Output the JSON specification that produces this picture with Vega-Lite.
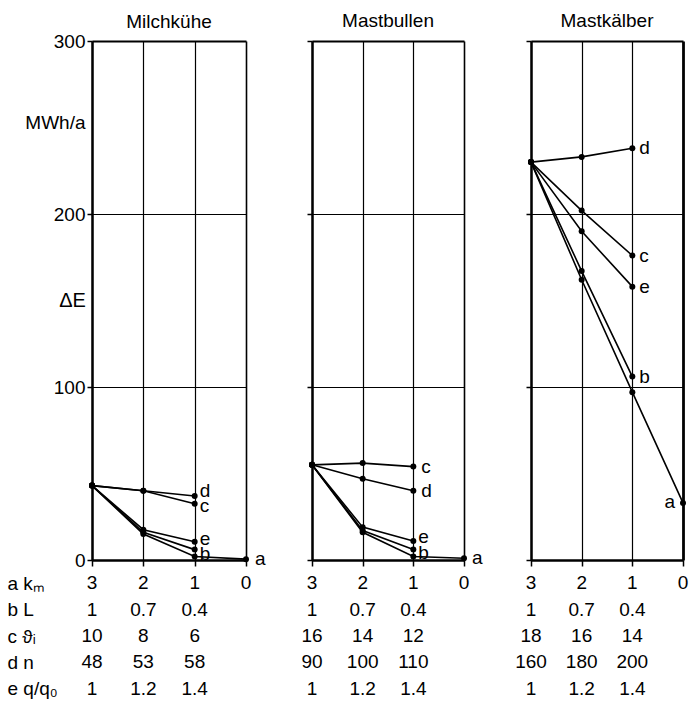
{
  "$schema": "https://vega.github.io/schema/vega-lite/v6.json",
  "autosize": {"type": "pad"},
  "padding": {"left": 7, "top": 12, "right": 0, "bottom": 0},
  "background": "white",
  "spacing": 35,
  "config": {
    "font": "Liberation Sans",
    "view": {"stroke": null},
    "axis": {"domainColor": "black", "tickColor": "black", "gridColor": "black", "labelColor": "black", "titleColor": "black", "labelFont": "Liberation Sans", "titleFont": "Liberation Sans", "labelFontSize": 19, "titleFontSize": 20, "titleFontWeight": "normal"},
    "title": {"font": "Liberation Sans", "fontSize": 19, "fontWeight": "normal", "color": "black", "offset": 9},
    "text": {"font": "Liberation Sans", "color": "black"}
  },
  "datasets": {
    "curves": [
      {"panel": "Milchkühe", "series": "a", "km": 3, "E": 43},
      {"panel": "Milchkühe", "series": "a", "km": 2, "E": 15},
      {"panel": "Milchkühe", "series": "a", "km": 1, "E": 2},
      {"panel": "Milchkühe", "series": "a", "km": 0, "E": 0.5},
      {"panel": "Milchkühe", "series": "b", "km": 3, "E": 43},
      {"panel": "Milchkühe", "series": "b", "km": 2, "E": 16},
      {"panel": "Milchkühe", "series": "b", "km": 1, "E": 6},
      {"panel": "Milchkühe", "series": "c", "km": 3, "E": 43},
      {"panel": "Milchkühe", "series": "c", "km": 2, "E": 40},
      {"panel": "Milchkühe", "series": "c", "km": 1, "E": 32.5},
      {"panel": "Milchkühe", "series": "d", "km": 3, "E": 43},
      {"panel": "Milchkühe", "series": "d", "km": 2, "E": 40},
      {"panel": "Milchkühe", "series": "d", "km": 1, "E": 37},
      {"panel": "Milchkühe", "series": "e", "km": 3, "E": 43},
      {"panel": "Milchkühe", "series": "e", "km": 2, "E": 17.5},
      {"panel": "Milchkühe", "series": "e", "km": 1, "E": 10.5},
      {"panel": "Mastbullen", "series": "a", "km": 3, "E": 55},
      {"panel": "Mastbullen", "series": "a", "km": 2, "E": 16},
      {"panel": "Mastbullen", "series": "a", "km": 1, "E": 2},
      {"panel": "Mastbullen", "series": "a", "km": 0, "E": 1},
      {"panel": "Mastbullen", "series": "b", "km": 3, "E": 55},
      {"panel": "Mastbullen", "series": "b", "km": 2, "E": 17},
      {"panel": "Mastbullen", "series": "b", "km": 1, "E": 6},
      {"panel": "Mastbullen", "series": "c", "km": 3, "E": 55},
      {"panel": "Mastbullen", "series": "c", "km": 2, "E": 56},
      {"panel": "Mastbullen", "series": "c", "km": 1, "E": 54},
      {"panel": "Mastbullen", "series": "d", "km": 3, "E": 55},
      {"panel": "Mastbullen", "series": "d", "km": 2, "E": 47},
      {"panel": "Mastbullen", "series": "d", "km": 1, "E": 40},
      {"panel": "Mastbullen", "series": "e", "km": 3, "E": 55},
      {"panel": "Mastbullen", "series": "e", "km": 2, "E": 19},
      {"panel": "Mastbullen", "series": "e", "km": 1, "E": 11},
      {"panel": "Mastkälber", "series": "a", "km": 3, "E": 230},
      {"panel": "Mastkälber", "series": "a", "km": 2, "E": 162},
      {"panel": "Mastkälber", "series": "a", "km": 1, "E": 97},
      {"panel": "Mastkälber", "series": "a", "km": 0, "E": 33},
      {"panel": "Mastkälber", "series": "b", "km": 3, "E": 230},
      {"panel": "Mastkälber", "series": "b", "km": 2, "E": 167},
      {"panel": "Mastkälber", "series": "b", "km": 1, "E": 106},
      {"panel": "Mastkälber", "series": "c", "km": 3, "E": 230},
      {"panel": "Mastkälber", "series": "c", "km": 2, "E": 202},
      {"panel": "Mastkälber", "series": "c", "km": 1, "E": 176},
      {"panel": "Mastkälber", "series": "d", "km": 3, "E": 230},
      {"panel": "Mastkälber", "series": "d", "km": 2, "E": 233},
      {"panel": "Mastkälber", "series": "d", "km": 1, "E": 238},
      {"panel": "Mastkälber", "series": "e", "km": 3, "E": 230},
      {"panel": "Mastkälber", "series": "e", "km": 2, "E": 190},
      {"panel": "Mastkälber", "series": "e", "km": 1, "E": 158}
    ],
    "table": [
      {"panel": "Milchkühe", "row": "a kₘ", "km": 3, "value": "3"},
      {"panel": "Milchkühe", "row": "a kₘ", "km": 2, "value": "2"},
      {"panel": "Milchkühe", "row": "a kₘ", "km": 1, "value": "1"},
      {"panel": "Milchkühe", "row": "a kₘ", "km": 0, "value": "0"},
      {"panel": "Milchkühe", "row": "b L", "km": 3, "value": "1"},
      {"panel": "Milchkühe", "row": "b L", "km": 2, "value": "0.7"},
      {"panel": "Milchkühe", "row": "b L", "km": 1, "value": "0.4"},
      {"panel": "Milchkühe", "row": "c ϑᵢ", "km": 3, "value": "10"},
      {"panel": "Milchkühe", "row": "c ϑᵢ", "km": 2, "value": "8"},
      {"panel": "Milchkühe", "row": "c ϑᵢ", "km": 1, "value": "6"},
      {"panel": "Milchkühe", "row": "d n", "km": 3, "value": "48"},
      {"panel": "Milchkühe", "row": "d n", "km": 2, "value": "53"},
      {"panel": "Milchkühe", "row": "d n", "km": 1, "value": "58"},
      {"panel": "Milchkühe", "row": "e q/q₀", "km": 3, "value": "1"},
      {"panel": "Milchkühe", "row": "e q/q₀", "km": 2, "value": "1.2"},
      {"panel": "Milchkühe", "row": "e q/q₀", "km": 1, "value": "1.4"},
      {"panel": "Mastbullen", "row": "a kₘ", "km": 3, "value": "3"},
      {"panel": "Mastbullen", "row": "a kₘ", "km": 2, "value": "2"},
      {"panel": "Mastbullen", "row": "a kₘ", "km": 1, "value": "1"},
      {"panel": "Mastbullen", "row": "a kₘ", "km": 0, "value": "0"},
      {"panel": "Mastbullen", "row": "b L", "km": 3, "value": "1"},
      {"panel": "Mastbullen", "row": "b L", "km": 2, "value": "0.7"},
      {"panel": "Mastbullen", "row": "b L", "km": 1, "value": "0.4"},
      {"panel": "Mastbullen", "row": "c ϑᵢ", "km": 3, "value": "16"},
      {"panel": "Mastbullen", "row": "c ϑᵢ", "km": 2, "value": "14"},
      {"panel": "Mastbullen", "row": "c ϑᵢ", "km": 1, "value": "12"},
      {"panel": "Mastbullen", "row": "d n", "km": 3, "value": "90"},
      {"panel": "Mastbullen", "row": "d n", "km": 2, "value": "100"},
      {"panel": "Mastbullen", "row": "d n", "km": 1, "value": "110"},
      {"panel": "Mastbullen", "row": "e q/q₀", "km": 3, "value": "1"},
      {"panel": "Mastbullen", "row": "e q/q₀", "km": 2, "value": "1.2"},
      {"panel": "Mastbullen", "row": "e q/q₀", "km": 1, "value": "1.4"},
      {"panel": "Mastkälber", "row": "a kₘ", "km": 3, "value": "3"},
      {"panel": "Mastkälber", "row": "a kₘ", "km": 2, "value": "2"},
      {"panel": "Mastkälber", "row": "a kₘ", "km": 1, "value": "1"},
      {"panel": "Mastkälber", "row": "a kₘ", "km": 0, "value": "0"},
      {"panel": "Mastkälber", "row": "b L", "km": 3, "value": "1"},
      {"panel": "Mastkälber", "row": "b L", "km": 2, "value": "0.7"},
      {"panel": "Mastkälber", "row": "b L", "km": 1, "value": "0.4"},
      {"panel": "Mastkälber", "row": "c ϑᵢ", "km": 3, "value": "18"},
      {"panel": "Mastkälber", "row": "c ϑᵢ", "km": 2, "value": "16"},
      {"panel": "Mastkälber", "row": "c ϑᵢ", "km": 1, "value": "14"},
      {"panel": "Mastkälber", "row": "d n", "km": 3, "value": "160"},
      {"panel": "Mastkälber", "row": "d n", "km": 2, "value": "180"},
      {"panel": "Mastkälber", "row": "d n", "km": 1, "value": "200"},
      {"panel": "Mastkälber", "row": "e q/q₀", "km": 3, "value": "1"},
      {"panel": "Mastkälber", "row": "e q/q₀", "km": 2, "value": "1.2"},
      {"panel": "Mastkälber", "row": "e q/q₀", "km": 1, "value": "1.4"}
    ]
  },
  "resolve": {"scale": {"x": "independent", "y": "independent"}},
  "hconcat": [
    {
      "bounds": "flush",
      "spacing": 10,
      "resolve": {"scale": {"x": "independent", "y": "independent"}},
      "vconcat": [
        {
          "width": 154, "height": 519,
          "title": {"text": "Milchkühe", "offset": 0},
          "data": {"name": "curves"},
          "transform": [{"filter": "datum.panel == 'Milchkühe'"}],
          "encoding": {
            "x": {"field": "km", "type": "quantitative", "scale": {"domain": [0, 3], "reverse": true, "nice": false, "zero": false},
                  "axis": {"values": [3, 2, 1, 0], "labels": false, "tickSize": 6, "tickWidth": 1.5, "grid": true, "gridWidth": {"condition": {"test": "datum.value == 0", "value": 1.6}, "value": 1.2}, "domainWidth": 2.5, "title": null}},
            "y": {"field": "E", "type": "quantitative", "scale": {"domain": [0, 300], "nice": false},
                  "axis": {"values": [0, 100, 200, 253, 300], "labelExpr": "datum.value == 253 ? 'MWh/a' : datum.label",
                           "tickOpacity": {"condition": {"test": "datum.value == 253", "value": 0}, "value": 1},
                           "gridOpacity": {"condition": {"test": "datum.value == 253", "value": 0}, "value": 1},
                           "gridWidth": {"condition": {"test": "datum.value == 300", "value": 2}, "value": 1.2},
                           "grid": true, "domainWidth": 2.5, "tickSize": 5, "tickWidth": 1.5, "labelPadding": 2,
                           "title": "ΔE", "titleAngle": 0, "titleX": -20, "titleY": 259, "titleAlign": "center", "titleBaseline": "middle"}}
          },
          "layer": [
            {"mark": {"type": "line", "color": "black", "strokeWidth": 1.6}, "encoding": {"detail": {"field": "series"}}},
            {"mark": {"type": "point", "filled": true, "color": "black", "size": 36, "opacity": 1}},
            {"transform": [{"joinaggregate": [{"op": "min", "field": "km", "as": "kmEnd"}], "groupby": ["series"]}, {"filter": "datum.km == datum.kmEnd && datum.series == 'a'"}],
             "mark": {"type": "text", "align": "left", "dx": 9, "fontSize": 19, "baseline": "middle"}, "encoding": {"text": {"field": "series"}}},
            {"transform": [{"filter": "datum.km == 1 && datum.series == 'd'"}],
             "mark": {"type": "text", "align": "left", "dx": 5, "dy": -5, "fontSize": 19, "baseline": "middle"}, "encoding": {"text": {"field": "series"}}},
            {"transform": [{"filter": "datum.km == 1 && datum.series == 'c'"}],
             "mark": {"type": "text", "align": "left", "dx": 5, "dy": 2, "fontSize": 19, "baseline": "middle"}, "encoding": {"text": {"field": "series"}}},
            {"transform": [{"filter": "datum.km == 1 && datum.series == 'e'"}],
             "mark": {"type": "text", "align": "left", "dx": 5, "dy": -3, "fontSize": 19, "baseline": "middle"}, "encoding": {"text": {"field": "series"}}},
            {"transform": [{"filter": "datum.km == 1 && datum.series == 'b'"}],
             "mark": {"type": "text", "align": "left", "dx": 5, "dy": 4, "fontSize": 19, "baseline": "middle"}, "encoding": {"text": {"field": "series"}}}
          ]
        },
        {
          "width": 154, "height": 132,
          "data": {"name": "table"},
          "transform": [{"filter": "datum.panel == 'Milchkühe'"}],
          "mark": {"type": "text", "fontSize": 19, "baseline": "middle", "align": "center"},
          "encoding": {
            "x": {"field": "km", "type": "quantitative", "scale": {"domain": [0, 3], "reverse": true, "nice": false, "zero": false}, "axis": null},
            "y": {"field": "row", "type": "nominal", "sort": ["a kₘ", "b L", "c ϑᵢ", "d n", "e q/q₀"],
                  "scale": {"type": "point", "padding": 0.5},
                  "axis": {"title": null, "domain": false, "ticks": false, "labelAlign": "left", "labelPadding": 85, "labelFontSize": 19, "labelBaseline": "middle"}},
            "text": {"field": "value"}
          }
        }
      ]
    },
    {
      "spacing": 32,
      "resolve": {"scale": {"x": "independent", "y": "independent"}},
      "hconcat": [
        {
          "bounds": "flush",
          "spacing": 10,
          "resolve": {"scale": {"x": "independent", "y": "independent"}},
          "vconcat": [
            {
              "width": 152, "height": 519,
              "title": "Mastbullen",
              "data": {"name": "curves"},
              "transform": [{"filter": "datum.panel == 'Mastbullen'"}],
              "encoding": {
                "x": {"field": "km", "type": "quantitative", "scale": {"domain": [0, 3], "reverse": true, "nice": false, "zero": false},
                      "axis": {"values": [3, 2, 1, 0], "labels": false, "tickSize": 6, "tickWidth": 1.5, "grid": true, "gridWidth": {"condition": {"test": "datum.value == 0", "value": 1.6}, "value": 1.2}, "domainWidth": 2.5, "title": null}},
                "y": {"field": "E", "type": "quantitative", "scale": {"domain": [0, 300], "nice": false},
                      "axis": {"values": [0, 100, 200, 300], "labels": false,
                               "gridWidth": {"condition": {"test": "datum.value == 300", "value": 2}, "value": 1.2},
                               "grid": true, "domainWidth": 2.5, "tickSize": 5, "tickWidth": 1.5, "title": null}}
              },
              "layer": [
                {"mark": {"type": "line", "color": "black", "strokeWidth": 1.6}, "encoding": {"detail": {"field": "series"}}},
                {"mark": {"type": "point", "filled": true, "color": "black", "size": 36, "opacity": 1}},
                {"transform": [{"joinaggregate": [{"op": "min", "field": "km", "as": "kmEnd"}], "groupby": ["series"]}, {"filter": "datum.km == datum.kmEnd && (datum.series == 'a' || datum.series == 'c' || datum.series == 'd')"}],
                 "mark": {"type": "text", "align": "left", "dx": 8, "fontSize": 19, "baseline": "middle"}, "encoding": {"text": {"field": "series"}}},
                {"transform": [{"filter": "datum.km == 1 && datum.series == 'e'"}],
                 "mark": {"type": "text", "align": "left", "dx": 5, "dy": -4, "fontSize": 19, "baseline": "middle"}, "encoding": {"text": {"field": "series"}}},
                {"transform": [{"filter": "datum.km == 1 && datum.series == 'b'"}],
                 "mark": {"type": "text", "align": "left", "dx": 5, "dy": 3, "fontSize": 19, "baseline": "middle"}, "encoding": {"text": {"field": "series"}}}
              ]
            },
            {
              "width": 152, "height": 132,
              "data": {"name": "table"},
              "transform": [{"filter": "datum.panel == 'Mastbullen'"}],
              "mark": {"type": "text", "fontSize": 19, "baseline": "middle", "align": "center"},
              "encoding": {
                "x": {"field": "km", "type": "quantitative", "scale": {"domain": [0, 3], "reverse": true, "nice": false, "zero": false}, "axis": null},
                "y": {"field": "row", "type": "nominal", "sort": ["a kₘ", "b L", "c ϑᵢ", "d n", "e q/q₀"],
                      "scale": {"type": "point", "padding": 0.5}, "axis": null},
                "text": {"field": "value"}
              }
            }
          ]
        },
        {
          "bounds": "flush",
          "spacing": 10,
          "resolve": {"scale": {"x": "independent", "y": "independent"}},
          "vconcat": [
            {
              "width": 152, "height": 519,
              "title": "Mastkälber",
              "data": {"name": "curves"},
              "transform": [{"filter": "datum.panel == 'Mastkälber'"}],
              "encoding": {
                "x": {"field": "km", "type": "quantitative", "scale": {"domain": [0, 3], "reverse": true, "nice": false, "zero": false},
                      "axis": {"values": [3, 2, 1, 0], "labels": false, "tickSize": 6, "tickWidth": 1.5, "grid": true, "gridWidth": {"condition": {"test": "datum.value == 0", "value": 2.8}, "value": 1.2}, "domainWidth": 2.5, "title": null}},
                "y": {"field": "E", "type": "quantitative", "scale": {"domain": [0, 300], "nice": false},
                      "axis": {"values": [0, 100, 200, 300], "labels": false,
                               "gridWidth": {"condition": {"test": "datum.value == 300", "value": 2}, "value": 1.2},
                               "grid": true, "domainWidth": 2.5, "tickSize": 5, "tickWidth": 1.5, "title": null}}
              },
              "layer": [
                {"mark": {"type": "line", "color": "black", "strokeWidth": 1.6}, "encoding": {"detail": {"field": "series"}}},
                {"mark": {"type": "point", "filled": true, "color": "black", "size": 36, "opacity": 1}},
                {"transform": [{"joinaggregate": [{"op": "min", "field": "km", "as": "kmEnd"}], "groupby": ["series"]}, {"filter": "datum.km == datum.kmEnd && datum.series != 'a'"}],
                 "mark": {"type": "text", "align": "left", "dx": 7, "fontSize": 19, "baseline": "middle"},
                 "encoding": {"text": {"field": "series"}}},
                {"transform": [{"joinaggregate": [{"op": "min", "field": "km", "as": "kmEnd"}], "groupby": ["series"]}, {"filter": "datum.km == datum.kmEnd && datum.series == 'a'"}],
                 "mark": {"type": "text", "align": "right", "dx": -8, "dy": -1, "fontSize": 19, "baseline": "middle"},
                 "encoding": {"text": {"field": "series"}}}
              ]
            },
            {
              "width": 152, "height": 132,
              "data": {"name": "table"},
              "transform": [{"filter": "datum.panel == 'Mastkälber'"}],
              "mark": {"type": "text", "fontSize": 19, "baseline": "middle", "align": "center"},
              "encoding": {
                "x": {"field": "km", "type": "quantitative", "scale": {"domain": [0, 3], "reverse": true, "nice": false, "zero": false}, "axis": null},
                "y": {"field": "row", "type": "nominal", "sort": ["a kₘ", "b L", "c ϑᵢ", "d n", "e q/q₀"],
                      "scale": {"type": "point", "padding": 0.5}, "axis": null},
                "text": {"field": "value"}
              }
            }
          ]
        }
      ]
    }
  ]
}
